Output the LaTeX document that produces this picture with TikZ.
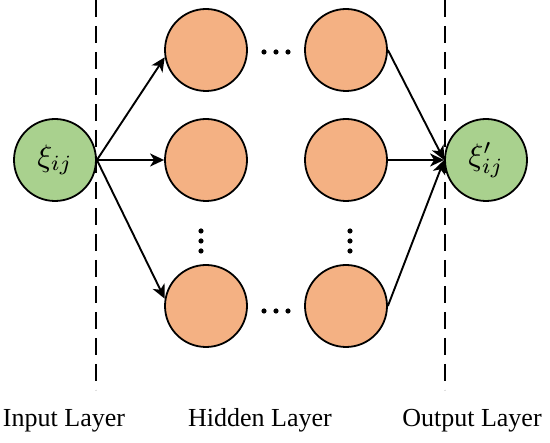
\documentclass[tikz,border=0pt]{standalone}
\usepackage{fontspec}
\setmainfont{Liberation Serif}
\usetikzlibrary{arrows.meta}
\definecolor{ingreen}{HTML}{A9D18E}
\definecolor{hidorange}{HTML}{F4B183}
\begin{document}
\begin{tikzpicture}[x=1pt,y=-1pt,
  neuron/.style={circle,draw=black,line width=1.8pt,minimum size=82pt,inner sep=0pt},
  inneuron/.style={neuron,fill=ingreen},
  hidneuron/.style={neuron,fill=hidorange},
  conn/.style={line width=1.9pt,-{Stealth[length=14pt,width=13pt,inset=4pt]}},
  sep/.style={line width=2.2pt,dash pattern=on 17pt off 9pt},
  lab/.style={font=\fontsize{26}{30}\selectfont,anchor=base}]
\useasboundingbox (0,0) rectangle (550,443);
\node[inneuron] (in) at (55,160) {\scalebox{3.1}{$\xi_{ij}$}};
\node[inneuron] (out) at (486,160) {\scalebox{3.1}{$\xi'_{ij}$}};
\node[hidneuron] (h11) at (206,50) {};
\node[hidneuron] (h12) at (206,160) {};
\node[hidneuron] (h13) at (206,306) {};
\node[hidneuron] (h21) at (346,50) {};
\node[hidneuron] (h22) at (346,160) {};
\node[hidneuron] (h23) at (346,306) {};
\coordinate (s1t) at (96,0);
\coordinate (s1b) at (96,390);
\coordinate (s2t) at (445,0);
\coordinate (s2b) at (445,390);
\draw[sep] (s1t) -- (s1b);
\draw[sep] (s2t) -- (s2b);
\draw[conn] (in.east) -- (h11.190);
\draw[conn] (in.east) -- (h12.west);
\draw[conn] (in.east) -- (h13.170);
\draw[conn] (h21.east) -- (out.west);
\draw[conn] (h22.east) -- (out.west);
\draw[conn] (h23.east) -- (out.west);
\foreach \y in {52,311}{
  \foreach \dx in {-12,0,12}{
    \fill (276+\dx,\y) circle (2.6pt);
  }
}
\foreach \x in {201,350}{
  \foreach \dy in {-10,0,10}{
    \fill (\x,241+\dy) circle (2.6pt);
  }
}
\node[lab] (l1) at (64,427) {Input Layer};
\node[lab] (l2) at (260,427) {Hidden Layer};
\node[lab] (l3) at (472,427) {Output Layer};
\end{tikzpicture}
\end{document}
